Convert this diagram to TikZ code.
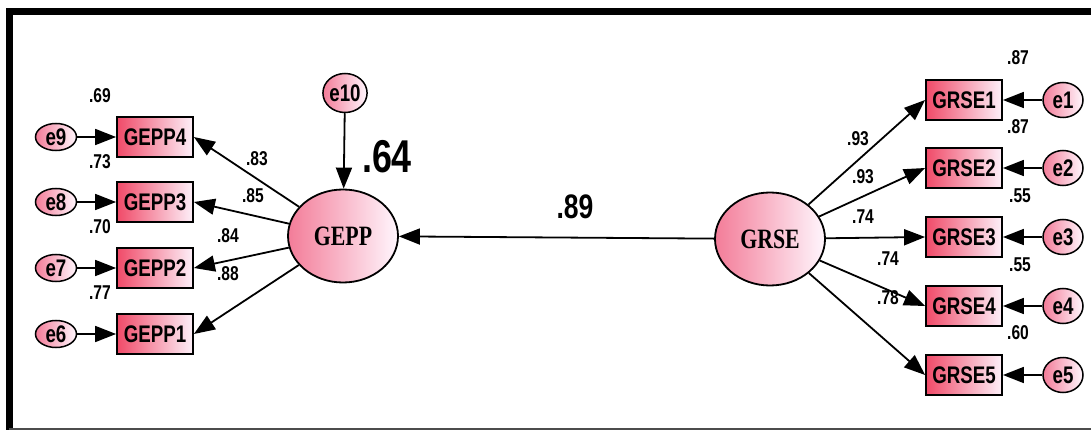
\documentclass[tikz,border=0pt]{standalone}
\usepackage{fontspec}
\usetikzlibrary{arrows.meta,shapes.geometric}
\newfontfamily\nfont[FakeStretch=0.78]{Liberation Sans}
\newfontfamily\sfont[FakeStretch=0.78]{Liberation Serif}
\definecolor{boxL}{HTML}{F04A68}
\definecolor{boxR}{HTML}{FDF0F9}
\definecolor{ellL}{HTML}{F37C98}
\definecolor{ellR}{HTML}{FFF6FD}
\tikzset{
  obs/.style={draw=black, line width=1.8pt, rectangle, minimum width=76pt, minimum height=40pt, inner sep=0pt,
    left color=boxL, right color=boxR, font=\nfont\bfseries\fontsize{24}{24}\selectfont},
  err/.style={draw=black, line width=1.5pt, ellipse, minimum width=41pt, minimum height=27pt, inner sep=0pt,
    left color=ellL, right color=ellR, font=\nfont\bfseries\fontsize{24}{24}\selectfont},
  errr/.style={err, minimum width=40pt, minimum height=35pt},
  lat/.style={draw=black, line width=1.8pt, ellipse, minimum width=110pt, minimum height=93pt, inner sep=0pt,
    left color=ellL, right color=ellR, font=\sfont\bfseries\fontsize{28}{28}\selectfont},
  coef/.style={inner sep=0pt, font=\nfont\bfseries\fontsize{20}{20}\selectfont},
  arr/.style={-{Triangle[length=21pt,width=16pt]}, line width=1.8pt},
}
\begin{document}
\begin{tikzpicture}[x=1pt,y=-1pt]
\useasboundingbox (0,0) rectangle (1091,430);
% frame
\draw[line width=7pt] (9,430) -- (9,11.5) -- (1091,11.5);
\draw[line width=2pt, black!70] (9,428.5) -- (1091,428.5);

% left side
\node[lat] (GEPP) at (343,236) {GEPP};
\node[err, minimum width=42pt, minimum height=39pt] (e10) at (345,93) {e10};
\foreach \i/\y in {4/137,3/202,2/268,1/334}{
  \node[obs] (GEPP\i) at (155,\y) {GEPP\i};
}
\node[err] (e9) at (56,137) {e9};
\node[err] (e8) at (56,202) {e8};
\node[err] (e7) at (56,268) {e7};
\node[err] (e6) at (56,334) {e6};
\draw[arr] (e9) -- (GEPP4);
\draw[arr] (e8) -- (GEPP3);
\draw[arr] (e7) -- (GEPP2);
\draw[arr] (e6) -- (GEPP1);
\foreach \i in {4,3,2,1}{ \draw[arr] (GEPP) -- (GEPP\i.east); }
\draw[arr] (e10) -- (GEPP);

% right side
\node[lat] (GRSE) at (770,239) {GRSE};
\foreach \i/\y in {1/100,2/168,3/237,4/306,5/375}{
  \node[obs] (GRSE\i) at (964,\y) {GRSE\i};
  \node[errr] (e\i) at (1063,\y) {e\i};
  \draw[arr] (e\i) -- (GRSE\i);
  \draw[arr] (GRSE) -- (GRSE\i.west);
}
\draw[arr] (GRSE) -- (GEPP);

% coefficients
\node[coef] (r69) at (100,96) {.69};
\node[coef] (r73) at (100,162) {.73};
\node[coef] (r70) at (100,227) {.70};
\node[coef] (r77) at (100,293) {.77};
\node[coef] (l83) at (257,159) {.83};
\node[coef] (l85) at (253,196) {.85};
\node[coef] (l84) at (228,236) {.84};
\node[coef] (l88) at (228,274) {.88};
\node[coef] (s87a) at (1018,58) {.87};
\node[coef] (s87b) at (1018,127) {.87};
\node[coef] (s55a) at (1020,196) {.55};
\node[coef] (s55b) at (1020,265) {.55};
\node[coef] (s60) at (1018,333) {.60};
\node[coef] (g93a) at (858,139) {.93};
\node[coef] (g93b) at (863,177) {.93};
\node[coef] (g74a) at (863,217) {.74};
\node[coef] (g74b) at (888,259) {.74};
\node[coef] (g78) at (888,298) {.78};
\node[coef, font=\nfont\bfseries\fontsize{34}{34}\selectfont] (b89) at (575,207) {.89};
\node[coef, font=\nfont\bfseries\fontsize{46}{46}\selectfont] (r64) at (387,157) {.64};
\end{tikzpicture}
\end{document}
